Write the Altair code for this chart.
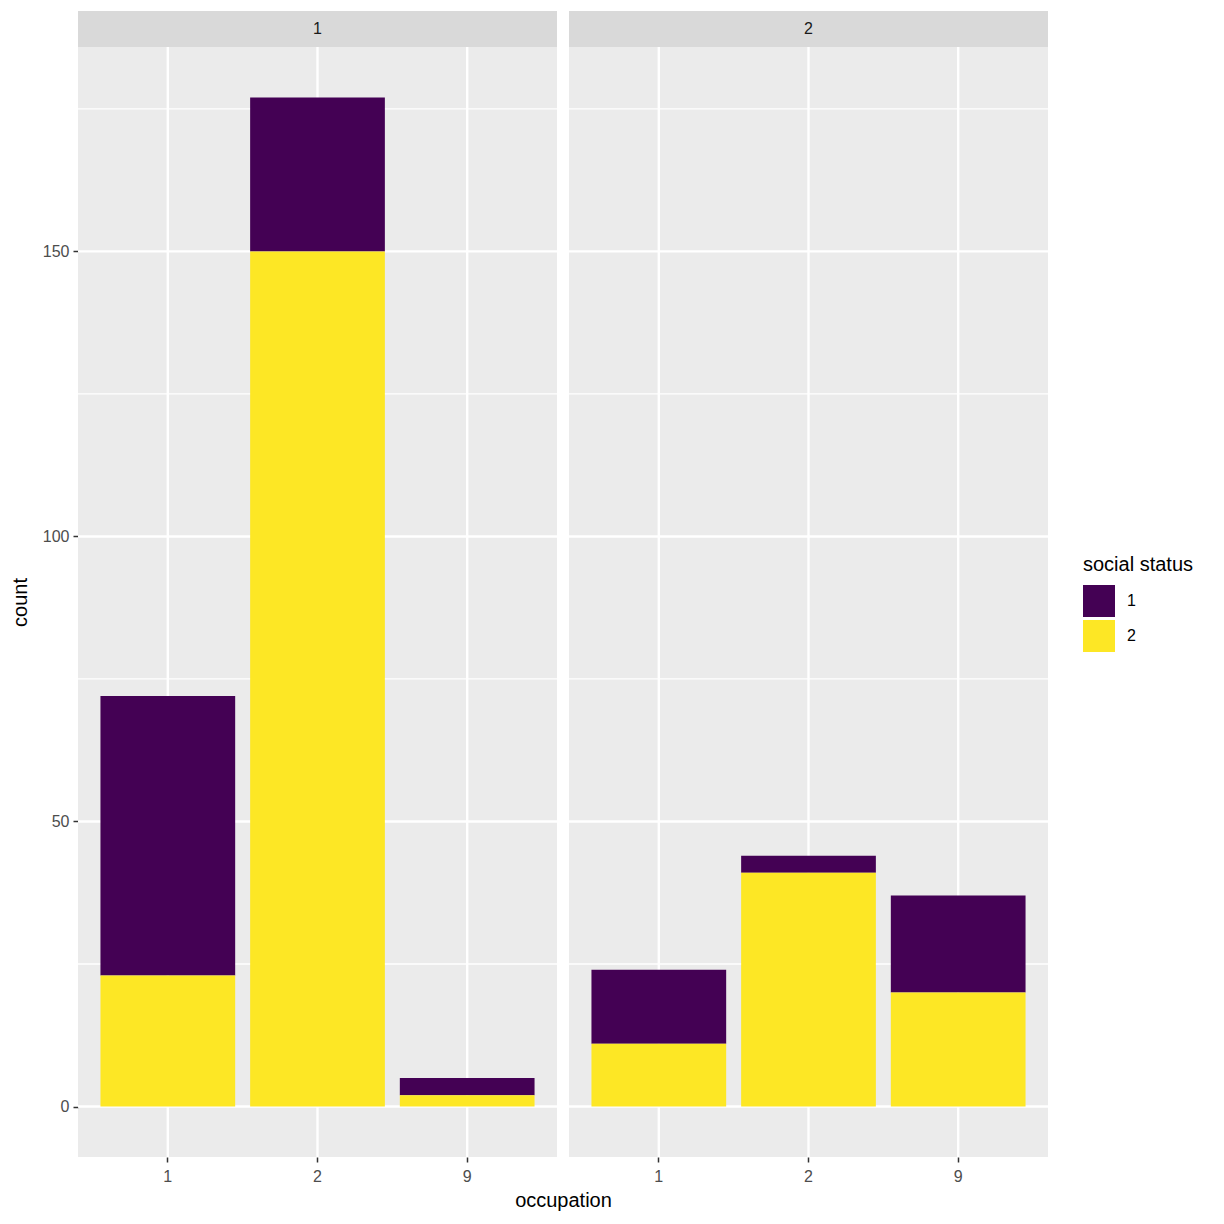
import altair as alt
import pandas as pd

# ---- data ----
occupations = ["1", "2", "9"]
statuses = ["1", "2"]
panel_labels = ["1", "2"]
panel1_status1 = [49, 27, 3]
panel1_status2 = [23, 150, 2]
panel2_status1 = [13, 3, 17]
panel2_status2 = [11, 41, 20]
y_major = [0, 50, 100, 150]
y_minor = [25, 75, 125, 175]
status_colors = ["#440154", "#FDE725"]

FONT = "Liberation Sans"
PW, PH = 479, 1110
STRIP = 36
Y_DOMAIN = [-8.85, 185.85]


def panel(label, s1, s2, first):
    df = pd.DataFrame({
        "occupation": occupations * 2,
        "status": [statuses[0]] * 3 + [statuses[1]] * 3,
        "count": s1 + s2,
    })
    xscale = alt.Scale(domain=occupations, paddingInner=0.1, paddingOuter=0.15)
    yscale = alt.Scale(domain=Y_DOMAIN, nice=False, zero=False)
    if first:
        xaxis = alt.Axis(title="occupation", labelAngle=0, titleX=485, titlePadding=6,
                         labelPadding=6)
        yaxis = alt.Axis(title="count", values=y_major, titlePadding=12, labelPadding=4)
    else:
        xaxis = alt.Axis(title=None, labelAngle=0, labelPadding=6)
        yaxis = None

    X = alt.X("occupation:N", scale=xscale, axis=xaxis, sort=occupations)

    minor = alt.Chart(pd.DataFrame({"v": y_minor})).mark_rule(
        color="white", strokeWidth=1.3
    ).encode(y=alt.Y("v:Q", scale=yscale, axis=yaxis))
    major = alt.Chart(pd.DataFrame({"v": y_major})).mark_rule(
        color="white", strokeWidth=2.4
    ).encode(y=alt.Y("v:Q", scale=yscale, axis=yaxis))
    vgrid = alt.Chart(pd.DataFrame({"occupation": occupations})).mark_rule(
        color="white", strokeWidth=2.4
    ).encode(x=X)

    bars = alt.Chart(df).mark_bar().encode(
        x=X,
        y=alt.Y("sum(count):Q", scale=yscale, axis=yaxis, stack="zero"),
        color=alt.Color(
            "status:N",
            scale=alt.Scale(domain=statuses, range=status_colors),
            legend=alt.Legend(
                title="social status",
                orient="none",
                legendX=1005,
                legendY=508,
                symbolType="square",
                symbolSize=1024,
                symbolStrokeWidth=0,
                symbolOpacity=1,
                titleFont=FONT,
                titleFontSize=20,
                titleFontWeight="normal",
                titleColor="black",
                titlePadding=10,
                labelFont=FONT,
                labelFontSize=16,
                labelColor="black",
                labelOffset=12,
                rowPadding=3,
            ),
        ),
        order=alt.Order("status:N", sort="descending"),
    )

    sdf = pd.DataFrame({"label": [label]})
    strip = alt.Chart(sdf).mark_rect(color="#D9D9D9").encode(
        x=alt.value(0), x2=alt.value(PW), y=alt.value(-STRIP), y2=alt.value(0)
    )
    stext = alt.Chart(sdf).mark_text(
        font=FONT, fontSize=16, color="#1A1A1A", baseline="middle", align="center"
    ).encode(x=alt.value(PW / 2), y=alt.value(-STRIP / 2), text="label:N")

    return alt.layer(minor, major, vgrid, bars, strip, stext).properties(
        width=PW, height=PH
    )


p1 = panel(panel_labels[0], panel1_status1, panel1_status2, True)
p2 = panel(panel_labels[1], panel2_status1, panel2_status2, False)

chart = alt.hconcat(p1, p2, spacing=12, bounds="flush").properties(
    padding={"left": 10, "top": 11, "right": 10, "bottom": 10},
    background="white",
).configure_view(
    fill="#EBEBEB", stroke=None
).configure_axis(
    domain=False,
    grid=False,
    labelFont=FONT,
    labelFontSize=16,
    labelColor="#4D4D4D",
    tickColor="#333333",
    tickSize=5,
    tickWidth=1.5,
    titleFont=FONT,
    titleFontSize=20,
    titleFontWeight="normal",
    titleColor="black",
)

chart.save("out.html", embed_options={"renderer": "svg", "actions": False})
